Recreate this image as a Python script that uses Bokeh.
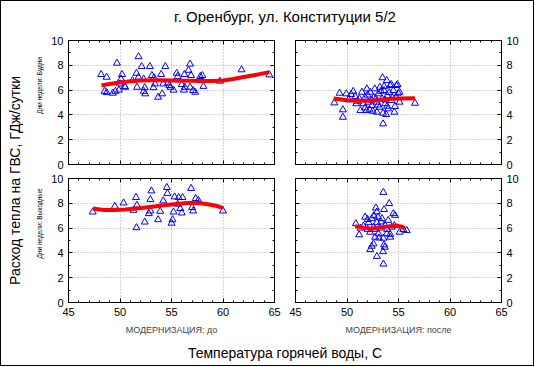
from bokeh.plotting import figure
from bokeh.layouts import column, row
from bokeh.models import LinearAxis, Range1d, Title, FixedTicker
from bokeh.embed import file_html
from bokeh.resources import INLINE

# ---------------- data ----------------
title_text = "г. Оренбург, ул. Конституции 5/2"
y_title = "Расход тепла на ГВС, ГДж/сутки"
x_title = "Температура горячей воды, С"
row_labels = ["Дни недели: Будни", "Дни недели: Выходные"]
col_labels = ["МОДЕРНИЗАЦИЯ: до", "МОДЕРНИЗАЦИЯ: после"]
x_ticks = [45, 50, 55, 60, 65]
y_ticks = [0, 2, 4, 6, 8, 10]

# Будни, до
wd_before_x = [48.17, 48.7, 48.5, 48.7, 49.3, 49.7, 50.2, 50.1, 49.9, 49.55, 50.45, 50.0, 50.5, 51.2,
               51.8, 52.1, 51.6, 51.8, 52.3, 51.65, 52.4, 52.3, 52.45, 52.9, 53.1, 53.3, 53.4, 53.25,
               53.7, 54.1, 54.4, 54.0, 54.2, 54.65, 54.8, 54.9, 55.2, 55.5, 55.6, 56.0, 56.25, 56.3,
               56.2, 56.8, 56.65, 56.9, 56.8, 57.1, 57.8, 57.9, 58.0, 58.1, 57.3, 59.7, 61.8, 64.5]
wd_before_y = [7.26, 7.04, 5.9, 5.8, 5.75, 8.17, 7.26, 6.9, 6.0, 5.9, 6.3, 6.5, 6.23, 6.77,
               8.7, 7.9, 7.36, 7.04, 6.9, 6.23, 6.2, 5.9, 5.7, 7.9, 7.18, 7.0, 6.5, 6.2,
               5.43, 5.7, 7.9, 7.26, 6.5, 6.56, 6.37, 6.23, 6.0, 7.36, 7.1, 6.45, 7.26, 6.23,
               6.0, 8.1, 7.6, 7.18, 6.23, 5.97, 7.1, 6.77, 7.18, 6.3, 5.83, 6.72, 7.64, 7.23]
wd_before_fit_x = [48.2, 49, 50, 51, 52, 53, 54, 55, 56, 57, 58, 59, 60, 61, 62, 63, 64.5]
wd_before_fit_y = [6.37, 6.5, 6.62, 6.72, 6.78, 6.8, 6.8, 6.78, 6.76, 6.75, 6.74, 6.74, 6.78, 6.9, 7.05, 7.2, 7.45]

# Будни, после
wd_after_x = [48.77, 49.28, 49.6, 49.6, 49.93, 50.4, 50.15, 50.8, 50.9, 51.2, 51.45, 51.6, 51.76, 51.93,
              52.1, 52.25, 52.2, 52.4, 52.6, 52.7, 52.9, 53.05, 53.15, 53.2, 53.4, 53.45, 53.5, 53.6,
              53.7, 53.86, 53.9, 54.0, 54.2, 54.3, 54.5, 54.66, 54.8, 54.98, 54.76, 55.1, 56.6, 53.5,
              53.8, 52.9, 51.3, 51.76, 54.3, 54.9, 55.1, 51.9, 52.5, 54.6, 52.0, 52.8, 53.3, 53.7,
              54.1, 53.0, 52.4, 53.9, 54.4, 51.0, 50.6, 53.6]
wd_after_y = [4.97, 5.75, 4.41, 3.81, 5.7, 5.65, 5.22, 5.48, 4.9, 5.3, 5.83, 4.9, 5.43, 6.1,
              5.03, 5.83, 4.41, 4.76, 5.43, 6.1, 5.03, 5.7, 4.62, 6.23, 5.3, 7.0, 3.28, 5.97,
              4.9, 6.77, 5.56, 4.49, 6.37, 5.16, 5.97, 4.68, 6.37, 5.75, 5.43, 5.03, 4.94, 4.14,
              4.03, 4.22, 4.35, 4.57, 6.45, 6.45, 5.83, 4.35, 4.3, 4.22, 5.6, 5.3, 5.9, 5.2,
              5.8, 4.8, 5.2, 4.7, 5.4, 5.1, 5.9, 6.3]
wd_after_fit_x = [48.7, 49.5, 50.0, 51.0, 52.0, 52.5, 53.0, 53.9, 55.0, 56.6]
wd_after_fit_y = [5.33, 5.24, 5.18, 5.15, 5.15, 5.16, 5.2, 5.28, 5.32, 5.35]

# Выходные, до
we_before_x = [47.35, 49.5, 50.35, 51.55, 51.65, 51.3, 51.6, 52.4, 52.8, 52.95, 53.05, 52.95, 53.7, 53.9,
               54.2, 54.55, 54.6, 55.1, 55.2, 55.0, 55.3, 55.7, 55.6, 55.85, 56.07, 56.0, 56.9, 57.35,
               57.6, 57.0, 57.1, 60.0]
we_before_y = [7.3, 7.76, 8.03, 8.47, 7.85, 7.44, 6.03, 6.49, 7.17, 7.38, 9.0, 8.3, 6.68, 7.36,
               8.2, 9.28, 8.8, 6.68, 7.3, 6.4, 8.52, 8.47, 7.93, 7.58, 8.47, 7.22, 9.2, 8.39,
               8.25, 7.66, 7.38, 7.38]
we_before_fit_x = [47.35, 48.4, 49.5, 50.5, 51.5, 52.5, 53.5, 54.5, 55.5, 56.5, 57.5, 58.5, 59.3, 60.0]
we_before_fit_y = [7.58, 7.46, 7.45, 7.5, 7.58, 7.67, 7.76, 7.86, 7.95, 8.03, 8.05, 7.92, 7.8, 7.63]

# Выходные, после
we_after_x = [53.53, 54.1, 52.8, 52.9, 54.5, 54.66, 51.76, 52.4, 53.4, 54.0, 50.86, 52.1, 52.9, 53.7,
              51.6, 52.57, 53.2, 54.34, 55.46, 55.8, 51.18, 52.25, 53.05, 53.86, 55.1, 52.73, 53.53, 54.2,
              52.57, 52.4, 52.25, 53.6, 53.67, 53.5, 52.9, 53.53, 53.0, 53.3, 52.7, 53.9, 52.0, 54.6,
              53.1, 52.0, 51.3, 53.6, 52.6, 54.2]
we_after_y = [8.88, 7.98, 7.63, 7.3, 7.17, 7.03, 6.89, 6.76, 6.76, 6.63, 6.36, 6.44, 6.44, 6.22,
              6.16, 6.08, 6.0, 6.08, 5.89, 5.81, 5.46, 5.67, 5.54, 5.54, 5.67, 5.27, 5.19, 5.27,
              4.73, 4.54, 4.27, 4.65, 4.46, 4.1, 3.72, 3.1, 6.9, 6.5, 5.9, 5.9, 5.9, 6.2,
              5.2, 6.7, 6.0, 7.5, 7.0, 5.5]
we_after_fit_x = [50.8, 51.5, 52.25, 53.0, 53.5, 54.2, 54.8, 55.3, 55.6]
we_after_fit_y = [6.16, 6.05, 5.95, 6.0, 6.08, 6.16, 6.22, 6.12, 5.95]

FONT = "Liberation Sans"


def style_axis(ax, labels, ticks, minor):
    ax.ticker = FixedTicker(ticks=ticks, minor_ticks=minor)
    ax.axis_line_color = "black"
    ax.major_tick_in = 4
    ax.major_tick_out = 0
    ax.minor_tick_in = 2
    ax.minor_tick_out = 0
    ax.major_tick_line_color = "black"
    ax.minor_tick_line_color = "black"
    ax.major_label_text_font = FONT
    ax.major_label_text_color = "black"
    if labels:
        ax.major_label_text_font_size = "11px"
        ax.major_label_standoff = 5
    else:
        ax.major_label_overrides = {t: "" for t in ticks}
        ax.major_label_text_font_size = "0px"
        ax.major_label_standoff = 0


def panel(xs, ys, fx, fy, left_lab, right_lab, bottom_lab, borders, col_label=None):
    bl, br, bt, bb = borders
    p = figure(frame_width=206, frame_height=124, x_range=Range1d(45, 65), y_range=Range1d(0, 10),
               output_backend="svg", toolbar_location=None,
               min_border_left=bl, min_border_right=br, min_border_top=bt, min_border_bottom=bb)
    p.outline_line_color = "black"
    p.background_fill_color = "white"
    p.border_fill_color = "white"
    xminor = list(range(45, 66))
    yminor = list(range(0, 11))
    bottom_axis = p.below[0]
    left_axis = p.left[0]
    style_axis(bottom_axis, bottom_lab, x_ticks, xminor)
    style_axis(left_axis, left_lab, y_ticks, yminor)
    top = LinearAxis()
    style_axis(top, False, x_ticks, xminor)
    p.add_layout(top, "above")
    right = LinearAxis()
    style_axis(right, right_lab, y_ticks, yminor)
    p.add_layout(right, "right")
    for g, t in ((p.xgrid[0], x_ticks), (p.ygrid[0], y_ticks)):
        g.ticker = FixedTicker(ticks=t)
        g.grid_line_color = "#a8a8a8"
        g.grid_line_dash = "1 2"
    if col_label:
        bottom_axis.axis_label = col_label
        bottom_axis.axis_label_text_font = FONT
        bottom_axis.axis_label_text_font_size = "9px"
        bottom_axis.axis_label_text_font_style = "normal"
        bottom_axis.axis_label_standoff = 6
    p.scatter(xs, ys, marker="triangle", size=7, fill_color=None, line_color="#0000ff", line_width=1)
    p.line(fx, fy, line_color="#ff0000", line_width=4)
    return p


tl = panel(wd_before_x, wd_before_y, wd_before_fit_x, wd_before_fit_y, True, False, False,
           (21, 10, 6, 7))
tr = panel(wd_after_x, wd_after_y, wd_after_fit_x, wd_after_fit_y, False, True, False,
           (11, 32, 6, 7))
bl = panel(we_before_x, we_before_y, we_before_fit_x, we_before_fit_y, True, False, True,
           (21, 10, 7, 36), col_label=col_labels[0])
br = panel(we_after_x, we_after_y, we_after_fit_x, we_after_fit_y, False, True, True,
           (11, 32, 7, 36), col_label=col_labels[1])


def blank(w, h, **borders):
    f = figure(width=w, height=h, output_backend="svg", toolbar_location=None,
               x_axis_location=None, y_axis_location=None, **borders)
    f.xgrid.visible = False
    f.ygrid.visible = False
    f.outline_line_color = None
    f.border_fill_color = "white"
    f.background_fill_color = "white"
    return f


def side_title(f, text, size, side, standoff=0):
    f.add_layout(Title(text=text, align="center", text_font=FONT, text_font_size=size,
                       text_font_style="normal", text_color="black", standoff=standoff), side)


top_fig = blank(532, 33, min_border_left=32, min_border_right=0, min_border_top=0, min_border_bottom=0)
side_title(top_fig, title_text, "15px", "above", 8)

left_fig = blank(28, 304, min_border_left=21, min_border_right=0, min_border_top=0, min_border_bottom=12)
side_title(left_fig, y_title, "14px", "left")

# row labels (Дни недели) in their own thin strips, left of the tick labels
rl_top = blank(18, 137, min_border_left=13, min_border_right=0, min_border_top=0, min_border_bottom=35)
side_title(rl_top, row_labels[0], "6.5px", "left")
rl_bot = blank(18, 167, min_border_left=13, min_border_right=0, min_border_top=0, min_border_bottom=63)
side_title(rl_bot, row_labels[1], "6.5px", "left")

bottom_fig = blank(532, 27, min_border_left=35, min_border_right=0, min_border_top=22, min_border_bottom=0)
side_title(bottom_fig, x_title, "14px", "above")

grid = column(row(tl, tr), row(bl, br))
layout = column(top_fig, row(left_fig, column(rl_top, rl_bot), grid), bottom_fig,
                styles={"border": "1px solid black", "background-color": "white"})

open("out.html", "w").write(file_html(layout, INLINE))
